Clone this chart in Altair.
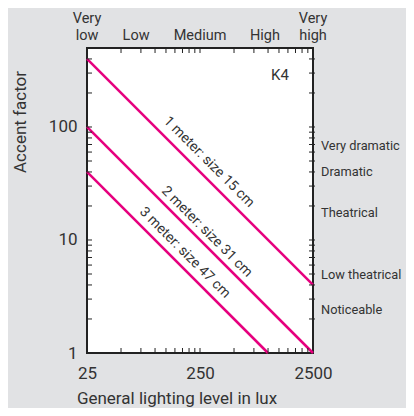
import altair as alt
import pandas as pd

FONT = "Roboto"
TXT = "#333333"
MAG = "#e6007e"

# lines (log-log, slope -1)
series = ["1 meter: size 15 cm", "2 meter: size 31 cm", "3 meter: size 47 cm"]
start_lux = [25, 25, 25]
start_acc = [400, 100, 40]
end_lux = [2500, 2500, 1000]
end_acc = [4, 1, 1]

# label anchors (centre of rotated text)
label_lux = [300, 288, 184]
label_acc = [49, 11.8, 7.7]

# top category labels (two rows)
cat_text = ["low", "Low", "Medium", "High", "high"]
cat_lux = [25, 68, 250, 940, 2500]
cat_top_text = ["Very", "Very"]
cat_top_lux = [25, 2500]

# right effect labels
eff_text = ["Very dramatic", "Dramatic", "Theatrical", "Low theatrical", "Noticeable"]
eff_acc = [68, 40, 17.5, 4.9, 2.4]

x_label_vals = [25, 250, 2500]
y_label_vals = [1, 10, 100]
x_ticks = [50, 75, 100, 125, 150, 175, 200, 225, 250, 500, 750, 1000, 1250, 1500, 1750, 2000, 2250]
y_ticks = [2, 3, 4, 5, 6, 7, 8, 9, 10, 20, 30, 40, 50, 60, 70, 80, 90, 100, 200, 300, 400]

W, H = 226, 305

rows = []
for s, a, b, c, d in zip(series, start_lux, start_acc, end_lux, end_acc):
    rows.append({"series": s, "lux": a, "acc": b, "o": 0})
    rows.append({"series": s, "lux": c, "acc": d, "o": 1})
lines_df = pd.DataFrame(rows)

xs = alt.Scale(type="log", domain=[25, 2500], nice=False)
ys = alt.Scale(type="log", domain=[1, 500], nice=False)

lines = alt.Chart(lines_df).mark_line(color=MAG, strokeWidth=2.5).encode(
    x=alt.X("lux:Q", scale=xs, axis=alt.Axis(values=x_label_vals, ticks=False, domain=False, grid=False,
                                              labelFontSize=17, labelFont=FONT, labelColor=TXT, format="d",
                                              labelPadding=12, title=None, labelFlush=False)),
    y=alt.Y("acc:Q", scale=ys, axis=alt.Axis(values=y_label_vals, ticks=False, domain=False, grid=False,
                                              labelFontSize=17, labelFont=FONT, labelColor=TXT, format="d",
                                              labelPadding=10, title=None, labelFlush=False)),
    detail="series:N",
    order="o:Q",
)

lab_df = pd.DataFrame({"t": series, "lux": label_lux, "acc": label_acc})
labels = alt.Chart(lab_df).mark_text(angle=45, align="center", baseline="middle", font=FONT,
                                     fontSize=14, color=TXT).encode(
    x=alt.X("lux:Q", scale=xs), y=alt.Y("acc:Q", scale=ys), text="t:N")

cat_df = pd.DataFrame({"t": cat_text, "lux": cat_lux})
cats = alt.Chart(cat_df).mark_text(align="center", baseline="alphabetic", font=FONT, fontSize=14.5,
                                   color=TXT).encode(
    x=alt.X("lux:Q", scale=xs), y=alt.value(-8), text="t:N")
cat2_df = pd.DataFrame({"t": cat_top_text, "lux": cat_top_lux})
cats2 = alt.Chart(cat2_df).mark_text(align="center", baseline="alphabetic", font=FONT, fontSize=14.5,
                                     color=TXT).encode(
    x=alt.X("lux:Q", scale=xs), y=alt.value(-25), text="t:N")

eff_df = pd.DataFrame({"t": eff_text, "acc": eff_acc})
effs = alt.Chart(eff_df).mark_text(align="left", baseline="middle", font=FONT, fontSize=12.8,
                                   color=TXT).encode(
    x=alt.value(W + 8), y=alt.Y("acc:Q", scale=ys), text="t:N")

xt_df = pd.DataFrame({"lux": x_ticks})
yt_df = pd.DataFrame({"acc": y_ticks})
tk = dict(color="#222222", strokeWidth=1)
xt_bot = alt.Chart(xt_df).mark_rule(**tk).encode(x=alt.X("lux:Q", scale=xs), y=alt.value(H), y2=alt.value(H - 5))
xt_top = alt.Chart(xt_df).mark_rule(**tk).encode(x=alt.X("lux:Q", scale=xs), y=alt.value(0), y2=alt.value(5))
yt_l = alt.Chart(yt_df).mark_rule(**tk).encode(y=alt.Y("acc:Q", scale=ys), x=alt.value(0), x2=alt.value(5))
yt_r = alt.Chart(yt_df).mark_rule(**tk).encode(y=alt.Y("acc:Q", scale=ys), x=alt.value(W - 4), x2=alt.value(W + 2))

k4 = alt.Chart(pd.DataFrame({"t": ["K4"], "lux": [1275], "acc": [290]})).mark_text(
    font=FONT, fontSize=15, color=TXT, align="center", baseline="middle").encode(
    x=alt.X("lux:Q", scale=xs), y=alt.Y("acc:Q", scale=ys), text="t:N")

ytitle = alt.Chart(pd.DataFrame({"t": ["Accent factor"]})).mark_text(
    font=FONT, fontSize=17, color=TXT, angle=270, align="center", baseline="middle").encode(
    x=alt.value(-66), y=alt.value(74), text="t:N")
xtitle = alt.Chart(pd.DataFrame({"t": ["General lighting level in lux"]})).mark_text(
    font=FONT, fontSize=17, color=TXT, align="center", baseline="alphabetic").encode(
    x=alt.value(90), y=alt.value(356), text="t:N")

chart = alt.layer(lines, labels, cats, cats2, effs, xt_bot, xt_top, yt_l, yt_r, k4, ytitle, xtitle).properties(
    width=W, height=H, background="#e1e2e4",
    autosize=alt.AutoSizeParams(type="none"),
    padding={"left": 79, "top": 40, "right": 93, "bottom": 55},
).configure_view(fill="white", stroke="#222222", strokeWidth=2)

chart.save("out.html", embed_options={"renderer": "svg", "actions": False})
